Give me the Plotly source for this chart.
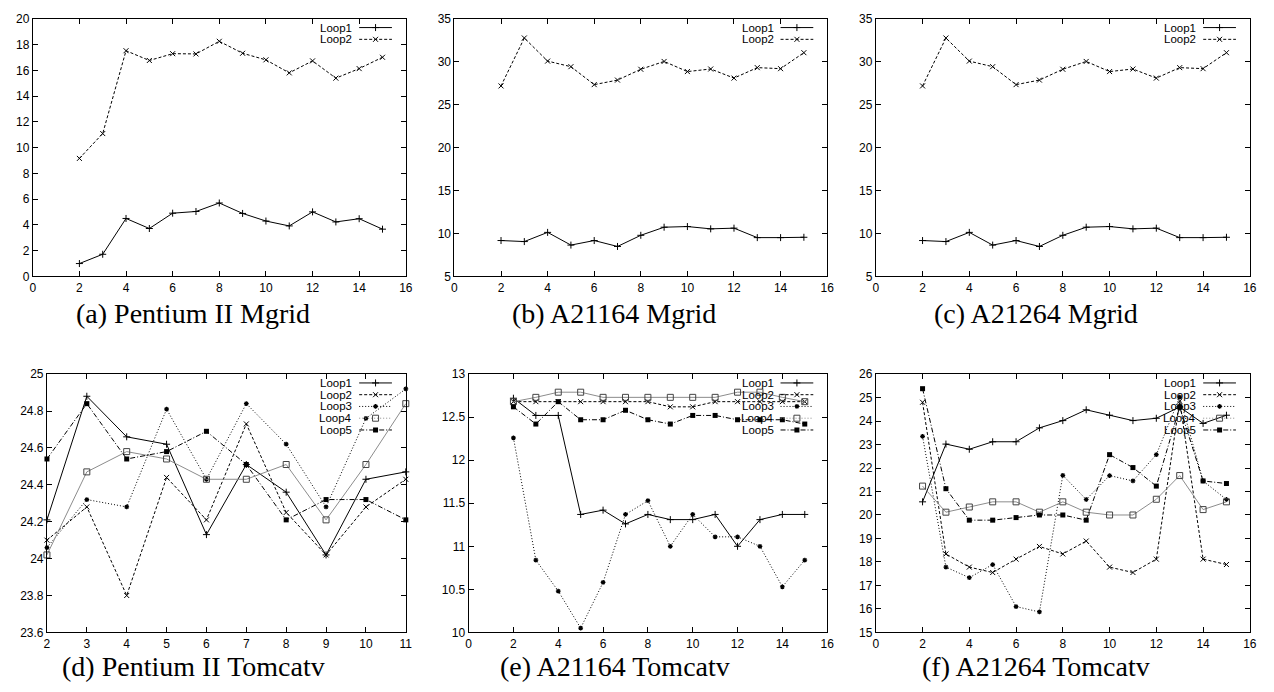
import plotly.graph_objects as go

# ---------------- data ----------------
mgrid_x = [2, 3, 4, 5, 6, 7, 8, 9, 10, 11, 12, 13, 14, 15]

p2_mgrid_loop1 = [1.0, 1.72, 4.5, 3.72, 4.91, 5.04, 5.7, 4.89, 4.3, 3.92, 5.01, 4.23, 4.48, 3.67]
p2_mgrid_loop2 = [9.16, 11.09, 17.52, 16.76, 17.29, 17.27, 18.25, 17.32, 16.81, 15.8, 16.73, 15.39, 16.13, 17.01]

a164_mgrid_loop1 = [9.18, 9.06, 10.13, 8.65, 9.18, 8.49, 9.79, 10.73, 10.81, 10.54, 10.62, 9.52, 9.52, 9.56]
a164_mgrid_loop2 = [27.18, 32.76, 30.07, 29.42, 27.33, 27.86, 29.12, 30.03, 28.85, 29.15, 28.09, 29.31, 29.19, 31.05]

a264_mgrid_loop1 = [9.18, 9.06, 10.13, 8.65, 9.18, 8.49, 9.79, 10.73, 10.81, 10.54, 10.62, 9.52, 9.52, 9.56]
a264_mgrid_loop2 = [27.18, 32.76, 30.07, 29.42, 27.33, 27.86, 29.12, 30.03, 28.85, 29.15, 28.09, 29.31, 29.19, 31.05]

p2_tom_x = [2, 3, 4, 5, 6, 7, 8, 9, 10, 11]
p2_tom_loop1 = [24.21, 24.88, 24.66, 24.62, 24.13, 24.51, 24.36, 24.02, 24.43, 24.47]
p2_tom_loop2 = [24.10, 24.28, 23.80, 24.44, 24.21, 24.73, 24.25, 24.02, 24.28, 24.43]
p2_tom_loop3 = [24.06, 24.32, 24.28, 24.81, 24.43, 24.84, 24.62, 24.28, 24.76, 24.92]
p2_tom_loop4 = [24.02, 24.47, 24.58, 24.54, 24.43, 24.43, 24.51, 24.21, 24.51, 24.84]
p2_tom_loop5 = [24.54, 24.84, 24.54, 24.58, 24.69, 24.51, 24.21, 24.32, 24.32, 24.21]

tom_x = [2, 3, 4, 5, 6, 7, 8, 9, 10, 11, 12, 13, 14, 15]
a164_tom_loop1 = [12.72, 12.52, 12.52, 11.37, 11.42, 11.26, 11.37, 11.31, 11.31, 11.37, 11.00, 11.31, 11.37, 11.37]
a164_tom_loop2 = [12.68, 12.68, 12.68, 12.68, 12.68, 12.68, 12.68, 12.62, 12.62, 12.68, 12.68, 12.68, 12.68, 12.68]
a164_tom_loop3 = [12.26, 10.84, 10.48, 10.05, 10.58, 11.37, 11.53, 11.00, 11.37, 11.11, 11.11, 11.00, 10.53, 10.84]
a164_tom_loop4 = [12.68, 12.73, 12.79, 12.79, 12.73, 12.73, 12.73, 12.73, 12.73, 12.73, 12.79, 12.79, 12.73, 12.68]
a164_tom_loop5 = [12.62, 12.42, 12.68, 12.47, 12.47, 12.58, 12.47, 12.42, 12.52, 12.52, 12.47, 12.47, 12.47, 12.42]

a264_tom_loop1 = [20.56, 23.02, 22.80, 23.12, 23.12, 23.71, 24.02, 24.48, 24.25, 24.02, 24.12, 24.60, 23.90, 24.25]
a264_tom_loop2 = [24.80, 18.34, 17.78, 17.55, 18.12, 18.66, 18.34, 18.89, 17.78, 17.55, 18.12, 24.85, 18.12, 17.89]
a264_tom_loop3 = [23.35, 17.78, 17.33, 17.89, 16.10, 15.87, 21.69, 20.66, 21.68, 21.45, 22.57, 25.02, 21.45, 20.66]
a264_tom_loop4 = [21.23, 20.12, 20.34, 20.56, 20.56, 20.12, 20.56, 20.12, 20.00, 20.00, 20.67, 21.68, 20.23, 20.56]
a264_tom_loop5 = [25.38, 21.12, 19.78, 19.78, 19.89, 20.00, 20.00, 19.78, 22.57, 22.02, 21.23, 24.60, 21.45, 21.34]

series_names = ["Loop1", "Loop2", "Loop3", "Loop4", "Loop5"]

captions = ["(a) Pentium II Mgrid", "(b) A21164 Mgrid", "(c) A21264 Mgrid",
            "(d) Pentium II Tomcatv", "(e) A21164 Tomcatv", "(f) A21264 Tomcatv"]

x_ticks_16 = [0, 2, 4, 6, 8, 10, 12, 14, 16]
x_ticks_p2tom = [2, 3, 4, 5, 6, 7, 8, 9, 10, 11]
y_ticks_a = [0, 2, 4, 6, 8, 10, 12, 14, 16, 18, 20]
y_ticks_bc = [5, 10, 15, 20, 25, 30, 35]
y_ticks_d = [23.6, 23.8, 24.0, 24.2, 24.4, 24.6, 24.8, 25.0]
y_labels_d = ["23.6", "23.8", "24", "24.2", "24.4", "24.6", "24.8", "25"]
y_ticks_e = [10, 10.5, 11, 11.5, 12, 12.5, 13]
y_labels_e = ["10", "10.5", "11", "11.5", "12", "12.5", "13"]
y_ticks_f = [15, 16, 17, 18, 19, 20, 21, 22, 23, 24, 25, 26]

# ---------------- layout config ----------------
W, H = 1274, 692
# plot boxes in pixels (left, top, right, bottom)
boxes = [
    (30.0, 12.0, 406.0, 275.0),
    (455.0, 12.0, 830.7, 275.0),
    (879.7, 12.0, 1256.7, 275.0),
    (44.3, 374.7, 406.0, 638.3),
    (469.3, 374.7, 830.7, 638.3),
    (879.7, 374.7, 1256.7, 638.3),
]
caption_pos = [(191.7, 313), (616, 313), (1041.5, 313),
               (191.7, 673), (616.7, 673), (1041.5, 673)]

panels = [
    dict(x=mgrid_x, ys=[p2_mgrid_loop1, p2_mgrid_loop2], xr=[0, 16], yr=[0, 20],
         xt=x_ticks_16, xl=None, yt=y_ticks_a, yl=None),
    dict(x=mgrid_x, ys=[a164_mgrid_loop1, a164_mgrid_loop2], xr=[0, 16], yr=[5, 35],
         xt=x_ticks_16, xl=None, yt=y_ticks_bc, yl=None),
    dict(x=mgrid_x, ys=[a264_mgrid_loop1, a264_mgrid_loop2], xr=[0, 16], yr=[5, 35],
         xt=x_ticks_16, xl=None, yt=y_ticks_bc, yl=None),
    dict(x=p2_tom_x, ys=[p2_tom_loop1, p2_tom_loop2, p2_tom_loop3, p2_tom_loop4, p2_tom_loop5],
         xr=[2, 11], yr=[23.6, 25], xt=x_ticks_p2tom, xl=None, yt=y_ticks_d, yl=y_labels_d),
    dict(x=tom_x, ys=[a164_tom_loop1, a164_tom_loop2, a164_tom_loop3, a164_tom_loop4, a164_tom_loop5],
         xr=[0, 16], yr=[10, 13], xt=x_ticks_16, xl=None, yt=y_ticks_e, yl=y_labels_e),
    dict(x=tom_x, ys=[a264_tom_loop1, a264_tom_loop2, a264_tom_loop3, a264_tom_loop4, a264_tom_loop5],
         xr=[0, 16], yr=[15, 26], xt=x_ticks_16, xl=None, yt=y_ticks_f, yl=None),
]

styles = [
    dict(line=dict(color="black", width=1, dash="solid"),
         marker=dict(symbol="cross-thin", size=5, color="black", line=dict(color="black", width=1))),
    dict(line=dict(color="black", width=1, dash="3px,2px"),
         marker=dict(symbol="x-thin", size=5, color="black", line=dict(color="black", width=1))),
    dict(line=dict(color="black", width=1, dash="1px,2px"),
         marker=dict(symbol="asterisk-open", size=4, color="black", line=dict(color="black", width=1.2))),
    dict(line=dict(color="#8c8c8c", width=1, dash="solid"),
         marker=dict(symbol="square-open", size=6, color="#444", line=dict(color="#444", width=1))),
    dict(line=dict(color="black", width=1, dash="5px,2px,1px,2px"),
         marker=dict(symbol="square", size=5, color="black", line=dict(color="black", width=0))),
]
legend_dash = ["solid", "3px,2px", "1px,2px", "1px,2px", "5px,2px,1px,2px"]

tickfont = dict(family="Liberation Sans, Arial, sans-serif", size=12, color="black")

fig = go.Figure()
annotations = []

for i, (p, box) in enumerate(zip(panels, boxes)):
    n = i + 1
    xa = "x" if n == 1 else f"x{n}"
    ya = "y" if n == 1 else f"y{n}"
    xkey = "xaxis" if n == 1 else f"xaxis{n}"
    ykey = "yaxis" if n == 1 else f"yaxis{n}"
    l, t, r, b = box
    fig.update_layout({
        xkey: dict(domain=[l / W, r / W], anchor=ya, range=p["xr"],
                   tickmode="array", tickvals=p["xt"],
                   ticktext=p["xl"] if p["xl"] else [str(v) for v in p["xt"]],
                   ticks="inside", ticklen=5, tickwidth=1, tickcolor="black",
                   showline=True, linecolor="black", linewidth=1, mirror="allticks",
                   showgrid=False, zeroline=False, tickfont=tickfont, fixedrange=True),
        ykey: dict(domain=[1 - b / H, 1 - t / H], anchor=xa, range=p["yr"],
                   tickmode="array", tickvals=p["yt"],
                   ticktext=p["yl"] if p["yl"] else [str(v) for v in p["yt"]],
                   ticks="inside", ticklen=5, tickwidth=1, tickcolor="black",
                   showline=True, linecolor="black", linewidth=1, mirror="allticks",
                   showgrid=False, zeroline=False, tickfont=tickfont, fixedrange=True),
    })
    # data series
    for k, ys in enumerate(p["ys"]):
        st = styles[k]
        fig.add_trace(go.Scatter(x=p["x"], y=ys, mode="lines+markers", name=series_names[k],
                                 line=st["line"], marker=st["marker"], xaxis=xa, yaxis=ya,
                                 cliponaxis=False, showlegend=False))
    # manual gnuplot-style legend (text left, sample right)
    x0, x1 = p["xr"]
    y0, y1 = p["yr"]

    def px2x(px):
        return x0 + (px - l) / (r - l) * (x1 - x0)

    def py2y(py):
        return y1 - (py - t) / (b - t) * (y1 - y0)

    for k in range(len(p["ys"])):
        st = styles[k]
        row_y = t + 9 + 12 * k
        yd = py2y(row_y)
        lx_a, lx_b = px2x(r - 47), px2x(r - 14)
        fig.add_trace(go.Scatter(x=[lx_a, lx_b], y=[yd, yd], mode="lines",
                                 line=dict(color=st["line"]["color"], width=1, dash=legend_dash[k]),
                                 xaxis=xa, yaxis=ya, showlegend=False, hoverinfo="skip"))
        fig.add_trace(go.Scatter(x=[px2x(r - 30.5)], y=[yd], mode="markers",
                                 marker=st["marker"], xaxis=xa, yaxis=ya,
                                 showlegend=False, hoverinfo="skip"))
        annotations.append(dict(x=(r - 53) / W, y=1 - row_y / H, xref="paper", yref="paper",
                                text=series_names[k], showarrow=False, xanchor="right",
                                yanchor="middle", height=12, borderpad=0,
                                font=dict(family="Liberation Sans, Arial, sans-serif",
                                          size=11.5, color="black")))
    cx, cy = caption_pos[i]
    annotations.append(dict(x=cx / W, y=1 - cy / H, xref="paper", yref="paper",
                            text=captions[i], showarrow=False, xanchor="center", yanchor="middle",
                            font=dict(family="Liberation Serif, Times New Roman, serif",
                                      size=28, color="black")))

fig.update_layout(width=W, height=H, autosize=False,
                  margin=dict(l=0, r=0, t=0, b=0, pad=0),
                  paper_bgcolor="white", plot_bgcolor="white",
                  showlegend=False, annotations=annotations)

fig.write_html("out.html", config={"displayModeBar": False},
               post_script="document.body.style.margin='0';document.body.style.overflow='hidden';")
